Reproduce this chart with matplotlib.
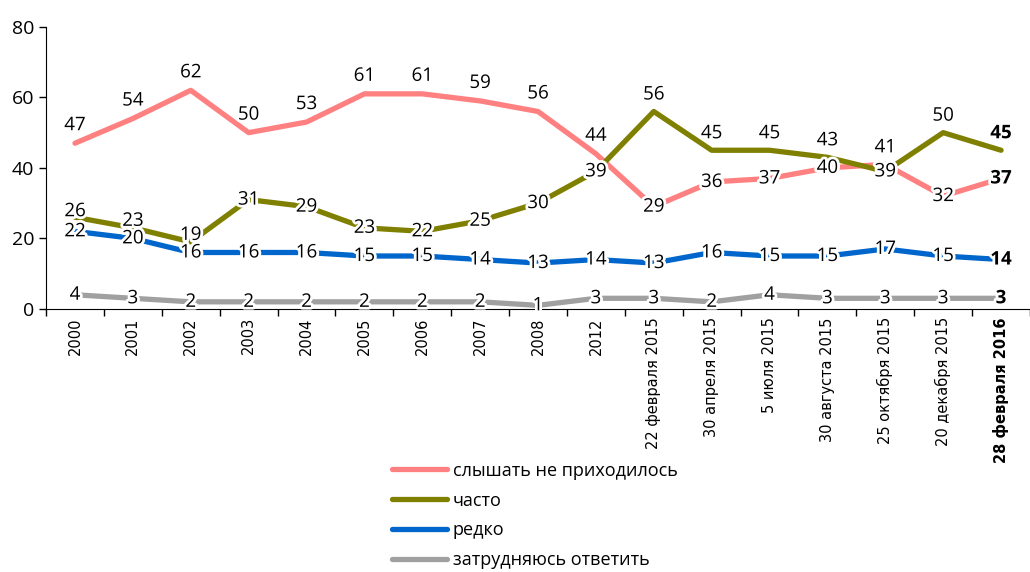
import matplotlib
matplotlib.use("Agg")
import matplotlib.pyplot as plt
import matplotlib.patheffects as pe

# данные
categories = ["2000", "2001", "2002", "2003", "2004", "2005", "2006", "2007", "2008",
              "2012", "22 февраля 2015", "30 апреля 2015", "5 июля 2015",
              "30 августа 2015", "25 октября 2015", "20 декабря 2015", "28 февраля 2016"]
never_heard = [47, 54, 62, 50, 53, 61, 61, 59, 56, 44, 29, 36, 37, 40, 41, 32, 37]
often = [26, 23, 19, 31, 29, 23, 22, 25, 30, 39, 56, 45, 45, 43, 39, 50, 45]
rarely = [22, 20, 16, 16, 16, 15, 15, 14, 13, 14, 13, 16, 15, 15, 17, 15, 14]
hard_to_say = [4, 3, 2, 2, 2, 2, 2, 2, 1, 3, 3, 2, 4, 3, 3, 3, 3]

series_names = ["слышать не приходилось", "часто", "редко", "затрудняюсь ответить"]
series_values = [never_heard, often, rarely, hard_to_say]
colors = ["#FF8080", "#808000", "#0066CC", "#A0A0A0"]

# сдвиг подписей по вертикали (в пикселях)
label_dy = [
    [18, 18, 18, 18, 18, 18, 18, 18, 18, 18, 0, 0, 0, 0, 17, 0, 0],
    [6, 7, 7, 0, 0, 0, 0, 0, 0, 0, 17, 17, 17, 17, 0, 17, 17],
    [0] * 17,
    [0] * 17,
]

fig = plt.figure(figsize=(10.3, 5.72), dpi=100)
ax = fig.add_axes([0.0447, 0.46, 0.9553, 0.493])

x = list(range(len(categories)))
lines = []
for name, vals, col in zip(series_names, series_values, colors):
    ln, = ax.plot(x, vals, color=col, lw=3.8, solid_capstyle="round",
                  solid_joinstyle="round", label=name)
    lines.append(ln)

last = len(categories) - 1
for vals, dys in zip(series_values, label_dy):
    for i, v in enumerate(vals):
        ax.annotate(str(v), (i, v), xytext=(0, dys[i] * 0.72), textcoords="offset points",
                    ha="center", va="center", fontsize=13.5, family="Open Sans",
                    fontweight="bold" if i == last else "normal",
                    path_effects=[pe.withStroke(linewidth=4, foreground="white")])

ax.set_ylim(0, 80)
ax.set_xlim(-0.5, 16.5)
ax.set_yticks([0, 20, 40, 60, 80])
ax.tick_params(axis="y", labelsize=14, length=5, width=1)
for t in ax.get_yticklabels():
    t.set_family("Open Sans")

ax.set_xticks(x)
ax.set_xticklabels(categories, rotation=90, fontsize=10.5, family="DejaVu Sans")
ax.get_xticklabels()[-1].set_fontweight("bold")
ax.set_xticks([i - 0.5 for i in range(len(categories) + 1)], minor=True)
ax.tick_params(axis="x", which="major", length=0, pad=6)
ax.tick_params(axis="x", which="minor", length=5, width=1)

ax.spines["top"].set_visible(False)
ax.spines["right"].set_visible(False)

fig.legend(handles=lines, loc="upper left", bbox_to_anchor=(0.381, 0.193),
           frameon=False, prop={"family": "Open Sans", "size": 13},
           handlelength=3.0, handletextpad=0.35, labelspacing=0.66,
           borderaxespad=0, borderpad=0)

fig.savefig("out.png", dpi=100)
